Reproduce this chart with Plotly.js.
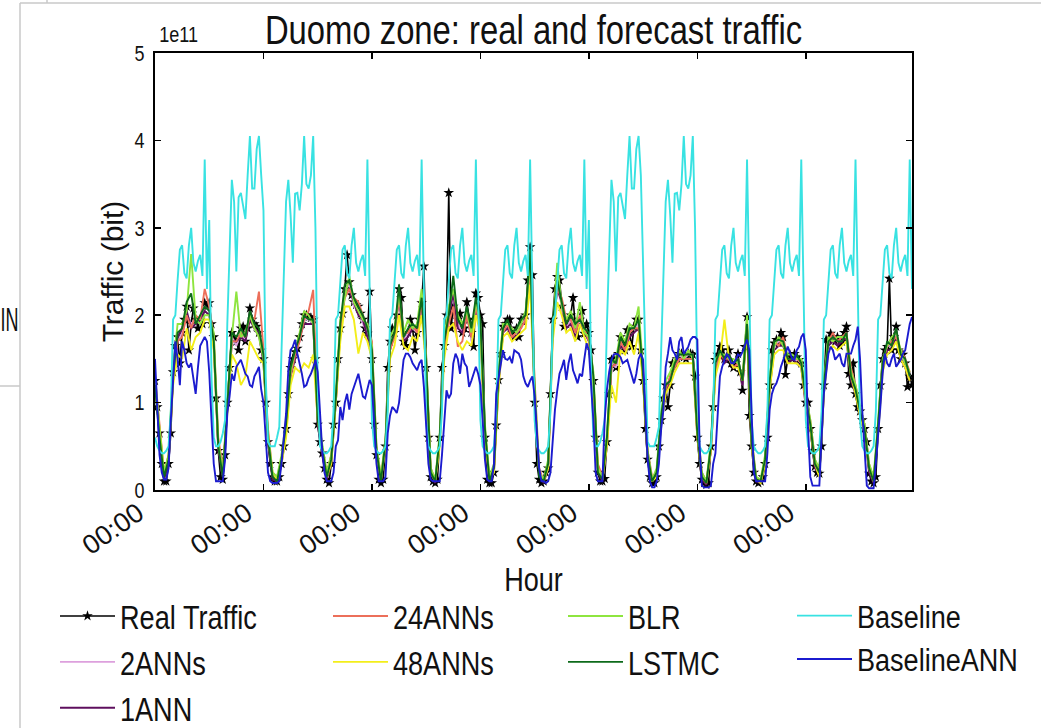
<!DOCTYPE html>
<html><head><meta charset="utf-8">
<script src="https://cdn.plot.ly/plotly-3.0.1.min.js"></script>
<style>html,body{margin:0;padding:0;background:#fff;}#chart{width:1041px;height:728px;}</style>
</head><body><div id="chart"></div>
<script>
// ---- data (traffic in units of 1e11 bit) ----
const SCALE = 1e11;
const yTickValues = [0, 1, 2, 3, 4, 5];
const yTickLabels = ['0', '1', '2', '3', '4', '5'];
const xTickHours = [0, 48, 96, 144, 192, 240, 288];
const xTickLabels = ['00:00', '00:00', '00:00', '00:00', '00:00', '00:00', '00:00'];
const seriesNames = ['Real Traffic', '2ANNs', '1ANN', '24ANNs', '48ANNs', 'BLR', 'LSTMC', 'Baseline', 'BaselineANN'];

// hourly values
const realTraffic = [
1.25,0.95,0.65,0.3,0.1,0.1,0.3,0.65,1.35,1.65,1.75,1.45,1.8,1.95,2.1,1.6,1.9,2.08,1.95,1.85,1.95,1.9,2.14,2.1,
2.14,1.9,1.75,1.05,0.45,0.15,0.12,0.4,1.0,1.4,1.8,1.75,1.7,1.6,1.85,1.87,1.7,1.85,2.08,1.95,1.9,1.87,1.8,1.6,
1.5,1.0,0.55,0.3,0.15,0.1,0.1,0.15,0.3,0.5,0.7,1.1,1.4,1.5,1.58,1.62,1.75,1.9,2.0,2.0,1.98,1.97,1.95,1.5,
0.75,0.55,0.42,0.25,0.12,0.08,0.3,0.75,1.0,1.5,1.85,2.02,2.3,2.69,2.38,2.23,2.15,2.12,2.1,2.02,1.95,1.85,1.79,2.27,
1.5,0.75,0.4,0.12,0.08,0.12,0.5,1.4,1.7,1.85,1.8,2.0,2.3,2.2,1.7,1.65,1.8,1.95,1.85,1.6,1.8,1.95,2.14,2.56,
1.4,0.6,0.15,0.1,0.08,0.12,0.6,1.4,1.65,2.0,3.4,1.85,2.1,1.9,1.95,2.02,1.8,1.85,2.15,1.95,1.8,1.64,2.25,2.2,
2.0,1.9,0.6,0.12,0.08,0.08,0.2,0.74,1.26,1.56,1.87,1.9,1.95,1.95,1.8,1.75,1.85,1.75,1.95,1.95,2.0,2.4,2.78,2.46,
1.0,0.3,0.12,0.08,0.1,0.2,0.25,1.1,1.95,2.3,2.44,2.4,2.1,1.87,1.9,1.95,2.0,2.2,1.87,1.75,1.95,2.05,1.79,1.9,
1.8,1.6,1.25,0.6,0.2,0.1,0.1,0.13,0.55,1.1,1.49,1.5,1.4,1.56,1.75,1.7,1.6,1.83,1.8,1.64,1.87,1.95,1.95,1.6,
1.25,0.7,0.35,0.15,0.08,0.08,0.15,0.5,0.8,1.05,1.2,0.95,1.2,1.45,1.45,1.5,1.56,1.56,1.52,1.5,1.56,1.56,1.55,1.3,
0.6,0.3,0.12,0.08,0.06,0.08,0.5,0.95,1.49,1.55,1.64,1.6,1.5,1.49,1.6,1.45,1.4,1.45,1.56,1.35,1.14,1.64,1.98,0.85,
0.5,0.2,0.1,0.08,0.1,0.15,0.3,0.6,1.2,1.6,1.68,1.72,1.7,1.8,1.75,1.32,1.5,1.55,1.5,1.56,1.52,1.49,1.45,1.2,
1.0,1.0,0.7,0.45,0.27,0.2,0.19,0.5,1.2,1.72,1.72,1.79,1.75,1.7,1.75,1.65,1.7,1.8,1.87,1.33,1.2,1.45,1.1,0.95,
0.9,0.8,0.7,0.55,0.19,0.1,0.08,0.15,0.7,1.2,1.5,1.6,1.64,2.42,1.6,1.75,1.87,1.6,1.5,1.55,1.45,1.18,1.3,1.2];

const baseline = [
0.6,0.5,0.45,0.42,0.42,0.45,0.5,0.9,1.95,2.0,2.4,2.75,2.8,2.48,2.42,2.8,3.0,2.6,2.5,2.62,2.69,2.45,3.78,2.3,
3.09,1.3,0.6,0.5,0.5,0.55,0.65,0.8,1.9,2.75,3.55,3.3,2.5,3.35,3.4,3.25,3.1,3.6,4.05,3.45,3.45,3.9,4.05,3.6,
3.2,1.3,0.55,0.5,0.5,0.5,0.6,0.72,1.6,2.6,3.3,3.55,3.15,2.6,3.39,3.4,3.2,3.5,4.05,3.5,3.45,3.6,4.05,3.0,
1.2,0.5,0.45,0.42,0.42,0.45,0.5,0.9,1.95,2.0,2.4,2.75,2.8,2.48,2.42,2.8,3.0,2.6,2.5,2.62,2.69,2.45,3.78,2.3,
0.8,0.5,0.45,0.42,0.42,0.45,0.5,0.9,1.95,2.0,2.4,2.75,2.8,2.48,2.42,2.8,3.0,2.6,2.5,2.62,2.69,2.45,3.78,2.3,
0.8,0.5,0.45,0.42,0.42,0.45,0.5,0.9,1.95,2.0,2.4,2.75,2.8,2.48,2.42,2.8,3.0,2.6,2.5,2.62,2.69,2.45,3.78,2.3,
0.8,0.5,0.45,0.42,0.42,0.45,0.5,0.9,1.95,2.0,2.4,2.75,2.8,2.48,2.42,2.8,3.0,2.6,2.5,2.62,2.69,2.45,3.78,2.3,
0.8,0.5,0.45,0.42,0.42,0.45,0.5,0.9,1.95,2.0,2.4,2.75,2.8,2.48,2.42,2.8,3.0,2.6,2.5,2.62,2.69,2.45,3.78,2.3,
3.09,1.3,0.6,0.5,0.5,0.55,0.65,0.8,1.9,2.75,3.55,3.3,2.5,3.35,3.4,3.25,3.1,3.6,4.05,3.45,3.45,3.9,4.05,3.6,
2.6,1.3,0.55,0.5,0.5,0.5,0.6,0.72,1.6,2.6,3.3,3.55,3.15,2.6,3.39,3.4,3.2,3.5,4.05,3.5,3.45,3.6,4.05,3.0,
1.2,0.5,0.45,0.42,0.42,0.45,0.5,0.9,1.95,2.0,2.4,2.75,2.8,2.48,2.42,2.8,3.0,2.6,2.5,2.62,2.69,2.45,3.78,2.3,
0.8,0.5,0.45,0.42,0.42,0.45,0.5,0.9,1.95,2.0,2.4,2.75,2.8,2.48,2.42,2.8,3.0,2.6,2.5,2.62,2.69,2.45,3.78,2.3,
0.8,0.5,0.45,0.42,0.42,0.45,0.5,0.9,1.95,2.0,2.4,2.75,2.8,2.48,2.42,2.8,3.0,2.6,2.5,2.62,2.69,2.45,3.78,2.3,
0.8,0.5,0.45,0.42,0.42,0.45,0.5,0.9,1.95,2.0,2.4,2.75,2.8,2.48,2.42,2.8,3.0,2.6,2.5,2.62,2.69,2.45,3.78,2.3];

const baselineANN = [
1.5,0.9,0.4,0.2,0.12,0.12,0.25,0.8,1.3,1.7,1.5,1.2,1.7,1.6,1.45,1.4,1.45,1.3,1.1,1.4,1.65,1.7,1.75,1.7,
1.35,0.8,0.3,0.1,0.1,0.1,0.1,0.35,0.88,1.07,1.33,1.25,1.41,1.45,1.49,1.41,1.33,1.3,1.2,1.18,1.3,1.35,1.41,1.15,
1.0,0.6,0.2,0.1,0.08,0.08,0.08,0.1,0.3,0.6,0.87,1.37,1.6,1.64,1.72,1.56,1.45,1.33,1.18,1.2,1.28,1.33,1.4,1.49,
1.35,0.9,0.45,0.2,0.1,0.1,0.1,0.2,0.5,0.57,0.95,0.8,1.0,1.1,0.92,1.1,1.18,1.25,1.33,1.2,1.07,1.05,1.15,1.26,
1.2,0.8,0.3,0.1,0.1,0.1,0.15,0.65,0.85,0.95,0.92,0.88,1.0,1.22,1.49,1.56,1.56,1.52,1.45,1.41,1.37,1.45,1.49,1.18,
0.7,0.3,0.12,0.1,0.1,0.1,0.1,0.4,0.8,1.14,1.05,1.1,1.45,1.56,1.5,1.33,1.56,1.45,1.41,1.18,1.25,1.33,1.41,1.33,
1.2,0.8,0.35,0.12,0.1,0.1,0.3,1.1,1.26,1.45,1.6,1.5,1.49,1.52,1.45,1.6,1.58,1.56,1.49,1.3,1.22,1.18,1.25,1.3,
1.07,0.6,0.25,0.1,0.1,0.08,0.1,0.2,0.6,0.92,1.14,1.33,1.4,1.49,1.26,1.45,1.56,1.37,1.3,1.22,1.33,1.3,1.5,1.68,
1.6,1.2,0.8,0.2,0.1,0.1,0.1,0.8,1.15,1.35,1.49,1.55,1.56,1.55,1.52,1.45,1.47,1.49,1.4,1.3,1.22,1.33,1.5,1.56,
1.49,0.9,0.35,0.1,0.03,0.03,0.1,0.3,0.7,0.92,1.41,1.56,1.75,1.6,1.56,1.49,1.7,1.75,1.56,1.6,1.64,1.72,1.75,1.75,
1.72,0.5,0.05,0.03,0.03,0.03,0.05,0.3,0.42,0.88,1.3,1.41,1.5,1.56,1.52,1.45,1.45,1.49,1.55,1.53,1.58,1.64,1.72,1.6,
0.9,0.2,0.1,0.1,0.1,0.1,0.1,0.42,0.92,1.1,1.18,1.22,1.3,1.41,1.5,1.56,1.64,1.56,1.5,1.49,1.6,1.64,1.75,1.79,
1.6,0.7,0.15,0.05,0.05,0.05,0.05,0.6,1.1,1.33,1.56,1.64,1.6,1.49,1.52,1.56,1.45,1.41,1.56,1.56,1.56,1.65,1.72,1.87,
1.5,0.9,0.4,0.05,0.02,0.02,0.02,0.3,0.6,0.95,1.33,1.56,1.45,1.41,1.5,1.56,1.41,1.45,1.49,1.56,1.6,1.75,1.9,1.98];

// two-hourly values
const ann2 = [
1.25,0.7,0.15,0.35,1.3,1.7,1.8,2.0,1.9,1.95,1.9,2.1,
2.05,1.7,0.5,0.18,0.95,1.75,1.65,1.8,1.7,2.0,1.85,1.75,
1.5,0.6,0.15,0.1,0.35,0.7,1.35,1.55,1.7,1.95,1.95,1.9,
0.8,0.45,0.15,0.35,1.0,1.85,2.3,2.35,2.1,2.05,1.9,1.8,
1.55,0.45,0.1,0.55,1.65,1.75,2.25,1.7,1.8,1.85,1.8,2.2,
1.45,0.2,0.1,0.6,1.65,2.05,2.2,1.9,1.8,2.05,1.7,2.15,
1.9,0.65,0.1,0.25,1.25,1.8,1.9,1.75,1.8,1.9,1.95,2.6,
1.1,0.2,0.1,0.3,1.85,2.35,2.1,1.85,1.95,1.8,1.95,1.8,
1.75,1.25,0.25,0.12,0.55,1.45,1.4,1.7,1.6,1.8,1.85,1.9,
1.3,0.4,0.1,0.2,0.8,1.15,1.25,1.45,1.55,1.5,1.55,1.55,
0.65,0.15,0.08,0.5,1.4,1.6,1.5,1.55,1.45,1.5,1.2,1.9,
0.55,0.12,0.1,0.35,1.2,1.65,1.7,1.7,1.5,1.5,1.5,1.45,
1.0,0.75,0.3,0.2,1.15,1.7,1.75,1.7,1.7,1.8,1.3,1.15,
0.9,0.7,0.25,0.1,0.7,1.45,1.65,1.65,1.8,1.55,1.45,1.3];

const ann1 = [
1.2,0.65,0.12,0.3,1.25,1.75,1.85,2.05,1.85,1.9,1.95,2.05,
2.0,1.65,0.45,0.15,0.9,1.7,1.7,1.75,1.7,1.95,1.85,1.8,
1.45,0.55,0.12,0.1,0.3,0.65,1.3,1.5,1.75,1.9,1.9,1.9,
0.75,0.4,0.12,0.3,1.0,1.8,2.25,2.3,2.15,2.0,1.95,1.75,
1.5,0.4,0.1,0.5,1.6,1.8,2.2,1.7,1.75,1.85,1.85,2.15,
1.4,0.2,0.08,0.55,1.6,2.0,2.25,1.85,1.8,2.0,1.75,2.1,
1.85,0.6,0.1,0.2,1.2,1.8,1.85,1.75,1.75,1.9,1.9,2.55,
1.05,0.18,0.08,0.25,1.8,2.3,2.15,1.85,1.9,1.75,1.9,1.8,
1.7,1.2,0.2,0.1,0.5,1.4,1.45,1.65,1.6,1.75,1.8,1.85,
1.25,0.35,0.1,0.18,0.75,1.1,1.3,1.4,1.5,1.5,1.5,1.5,
0.6,0.12,0.06,0.45,1.35,1.55,1.45,1.5,1.4,1.45,1.2,1.85,
0.5,0.1,0.08,0.3,1.15,1.6,1.65,1.65,1.45,1.5,1.45,1.4,
0.95,0.7,0.25,0.18,1.1,1.65,1.7,1.65,1.7,1.75,1.25,1.1,
0.85,0.65,0.2,0.08,0.65,1.4,1.6,1.6,1.75,1.5,1.4,1.25];

const ann24 = [
1.3,0.75,0.2,0.4,1.3,1.7,1.75,2.0,1.85,2.0,1.95,2.3,
2.1,1.75,0.6,0.25,0.9,1.7,1.7,1.8,1.75,2.0,1.95,2.27,
1.6,0.7,0.2,0.15,0.35,0.7,1.3,1.55,1.7,1.95,2.05,2.29,
0.9,0.5,0.2,0.4,1.0,1.85,2.2,2.3,2.2,2.15,2.0,1.85,
1.7,0.5,0.15,0.55,1.6,1.75,2.2,1.8,1.8,1.9,1.8,2.15,
1.5,0.25,0.12,0.55,1.6,1.9,2.1,1.64,1.7,2.0,1.75,2.1,
1.85,0.65,0.15,0.25,1.2,1.8,1.9,1.75,1.8,1.85,1.95,2.5,
1.25,0.25,0.1,0.3,1.8,2.3,2.2,1.95,1.95,1.8,2.0,1.85,
1.7,1.25,0.3,0.15,0.55,1.4,1.45,1.7,1.6,1.8,1.85,1.85,
1.3,0.45,0.15,0.2,0.8,1.15,1.3,1.4,1.5,1.5,1.5,1.5,
0.75,0.2,0.1,0.45,1.35,1.55,1.5,1.5,1.4,1.45,1.3,1.85,
0.6,0.15,0.1,0.35,1.25,1.7,1.65,1.75,1.5,1.5,1.5,1.45,
1.05,0.8,0.35,0.2,1.15,1.7,1.8,1.7,1.75,1.8,1.4,1.2,
0.95,0.75,0.3,0.12,0.7,1.45,1.65,1.7,1.75,1.6,1.5,1.35];

const ann48 = [
1.2,0.7,0.2,0.35,1.2,1.55,1.5,1.85,1.6,1.75,1.8,1.95,
1.95,1.6,0.5,0.2,0.85,1.55,1.45,1.2,1.3,1.7,1.6,1.5,
1.45,0.6,0.2,0.12,0.3,0.6,1.2,1.4,1.35,1.45,1.4,1.55,
0.8,0.45,0.15,0.3,0.95,1.7,2.1,2.1,1.95,1.56,1.8,1.7,
1.5,0.4,0.12,0.5,1.5,1.65,2.0,1.65,1.6,1.75,1.7,2.0,
1.4,0.2,0.1,0.5,1.5,1.85,1.9,1.7,1.6,1.7,1.65,2.0,
1.8,0.6,0.12,0.2,1.15,1.75,1.8,1.7,1.75,1.8,1.85,2.35,
1.1,0.2,0.1,0.25,1.7,2.15,2.0,1.8,1.85,1.7,1.9,1.75,
1.6,1.2,0.25,0.12,0.5,1.2,1.0,1.6,1.55,1.7,1.55,1.8,
1.2,0.4,0.1,0.15,0.75,1.1,1.2,1.35,1.45,1.45,1.45,1.45,
0.6,0.15,0.08,0.45,1.3,1.5,1.95,1.5,1.4,1.4,1.25,1.8,
0.5,0.12,0.08,0.3,1.15,1.55,1.6,1.6,1.45,1.45,1.45,1.4,
1.0,0.7,0.3,0.15,1.1,1.6,1.65,1.6,1.65,1.7,1.3,1.1,
0.85,0.65,0.25,0.1,0.65,1.35,1.55,1.6,1.7,1.5,1.4,1.25];

const blr = [
1.3,0.7,0.2,0.4,1.4,1.9,1.9,2.05,2.7,1.95,1.9,2.0,
2.0,1.8,0.55,0.2,1.0,1.75,2.27,1.75,1.8,2.0,1.85,1.75,
1.5,0.65,0.2,0.15,0.4,0.8,1.35,1.6,1.8,2.05,2.0,1.9,
0.85,0.5,0.2,0.4,1.1,1.95,2.2,2.45,2.15,2.05,1.95,1.9,
1.65,0.5,0.15,0.6,1.75,1.85,2.25,1.8,1.95,1.85,1.9,2.3,
1.5,0.25,0.12,0.65,1.75,2.1,2.3,2.0,1.9,2.05,1.8,2.15,
1.9,0.75,0.15,0.3,1.35,1.9,1.9,1.85,1.8,1.9,2.05,2.6,
1.2,0.2,0.12,0.35,1.85,2.6,2.1,1.95,2.05,1.85,2.15,1.8,
1.75,1.35,0.25,0.15,0.65,1.45,1.5,1.8,1.7,1.9,1.85,2.1,
1.35,0.45,0.12,0.25,0.9,1.25,1.35,1.5,1.6,1.5,1.6,1.5,
0.7,0.2,0.1,0.55,1.5,1.55,1.55,1.5,1.5,1.45,1.3,2.0,
0.6,0.15,0.12,0.4,1.3,1.65,1.75,1.65,1.55,1.55,1.5,1.5,
1.1,0.8,0.35,0.25,1.25,1.75,1.7,1.75,1.75,1.75,1.35,1.2,
0.95,0.75,0.3,0.15,0.8,1.5,1.65,1.75,1.8,1.6,1.45,1.35];

const lstmc = [
1.2,0.6,0.15,0.35,1.3,1.8,1.85,2.15,2.25,1.9,2.0,2.1,
2.05,1.7,0.5,0.15,0.95,1.8,1.75,1.85,1.75,2.05,1.9,1.85,
1.55,0.6,0.15,0.1,0.35,0.75,1.4,1.6,1.75,2.0,1.95,1.95,
0.8,0.45,0.15,0.35,1.05,1.9,2.35,2.4,2.2,2.1,2.0,1.85,
1.6,0.45,0.1,0.55,1.65,1.8,2.35,1.75,1.85,1.9,1.85,2.2,
1.45,0.2,0.1,0.6,1.7,2.0,2.45,1.95,1.85,2.1,1.85,2.2,
1.95,0.7,0.1,0.25,1.3,1.85,1.95,1.8,1.85,1.95,2.0,2.75,
1.1,0.15,0.1,0.3,1.9,2.4,2.15,1.9,2.0,1.9,1.95,1.85,
1.8,1.3,0.2,0.12,0.6,1.5,1.45,1.75,1.65,1.85,1.85,1.95,
1.3,0.4,0.1,0.2,0.85,1.2,1.25,1.45,1.55,1.55,1.55,1.55,
0.65,0.15,0.08,0.5,1.45,1.6,1.5,1.55,1.45,1.5,1.25,1.9,
0.55,0.12,0.1,0.35,1.25,1.7,1.72,1.7,1.5,1.5,1.55,1.45,
1.05,0.75,0.3,0.2,1.2,1.7,1.75,1.7,1.7,1.8,1.3,1.15,
0.9,0.7,0.25,0.1,0.75,1.45,1.7,1.65,1.85,1.55,1.5,1.3];

// ---- drawing ----
const FONT = '"Liberation Sans", Arial, sans-serif';
const SQUISH = 0.82;   // the reference image is horizontally compressed
const LEGEND_SIZE = 33;
const LAST_LEGEND_SIZE = 31;   // slightly smaller so the widest entry stays on the page
const hourly = arr => arr.map((_, i) => i);
const twoHourly = arr => arr.map((_, i) => 2 * i);
const scaled = arr => arr.map(v => v * SCALE);

function lineTrace(name, xs, ys, color, legend, extra) {
  return Object.assign({
    type: 'scatter', mode: 'lines', name: name, x: xs, y: scaled(ys),
    line: {color: color, width: 1.9}, legend: legend, hoverinfo: 'skip'
  }, extra || {});
}

const traces = [
  lineTrace(seriesNames[0], hourly(realTraffic), realTraffic, '#000000', 'legend',
    {mode: 'lines+markers', marker: {symbol: 'star', size: 8, color: '#000000'}, line: {color: '#000000', width: 1.6}}),
  lineTrace(seriesNames[1], twoHourly(ann2), ann2, '#dda0dd', 'legend'),
  lineTrace(seriesNames[2], twoHourly(ann1), ann1, '#5e0f5e', 'legend'),
  lineTrace(seriesNames[3], twoHourly(ann24), ann24, '#ec6f5a', 'legend2'),
  lineTrace(seriesNames[4], twoHourly(ann48), ann48, '#f3ee1a', 'legend2'),
  lineTrace(seriesNames[5], twoHourly(blr), blr, '#8ee53f', 'legend3'),
  lineTrace(seriesNames[6], twoHourly(lstmc), lstmc, '#0d6a1a', 'legend3'),
  lineTrace(seriesNames[7], hourly(baseline), baseline, '#38e2e2', 'legend4'),
  lineTrace(seriesNames[8], hourly(baselineANN), baselineANN, '#1b1bcf', 'legend4')
];

// pixel helpers for paper coords (plot area: x 155..912, y 53..490)
const PL = 155, PR = 912, PT = 53, PB = 490;
const px = x => (x - PL) / (PR - PL);
const py = y => (PB - y) / (PB - PT);

function legendAt(xPix, yPix, size) {
  return {
    x: px(xPix), y: py(yPix), xanchor: 'left', yanchor: 'top',
    orientation: 'v', bgcolor: 'rgba(0,0,0,0)', borderwidth: 0,
    itemwidth: 55, tracegroupgap: 0, traceorder: 'normal',
    font: {family: FONT, size: size || LEGEND_SIZE, color: '#111'}
  };
}

const axisCommon = {
  showline: true, linecolor: '#000', linewidth: 2, mirror: 'allticks',
  ticks: 'inside', ticklen: 6, tickwidth: 1.5, tickcolor: '#000',
  showgrid: false, zeroline: false
};

const layout = {
  width: 1041, height: 728,
  margin: {l: PL, r: 1041 - PR, t: PT, b: 728 - PB, pad: 0, autoexpand: false},
  paper_bgcolor: '#ffffff', plot_bgcolor: '#ffffff',
  showlegend: true,
  title: {text: 'Duomo zone: real and forecast traffic',
    font: {family: FONT, size: 40, color: '#111'},
    xref: 'container', yref: 'container', x: (PL + PR) / 2 / 1041, xanchor: 'center',
    y: 1 - 30 / 728, yanchor: 'middle'},
  xaxis: Object.assign({}, axisCommon, {
    range: [0, 335], tickmode: 'array', tickvals: xTickHours, ticktext: xTickLabels,
    tickangle: -35, tickfont: {family: FONT, size: 27, color: '#111'},
    ticklabelshift: -17, ticklabelstandoff: -5,
    title: {text: 'Hour', font: {family: FONT, size: 33, color: '#111'}, standoff: 8}
  }),
  yaxis: Object.assign({}, axisCommon, {
    range: [0, 5 * SCALE], tickmode: 'array',
    tickvals: yTickValues.map(v => v * SCALE), ticktext: yTickLabels,
    tickfont: {family: FONT, size: 22, color: '#111'}, ticklabelstandoff: 4,
    title: {text: 'Traffic (bit)', font: {family: FONT, size: 30, color: '#111'}, standoff: 0}
  }),
  legend: legendAt(55, 588),
  legend2: legendAt(328, 588),
  legend3: legendAt(563, 588),
  legend4: legendAt(792, 589, LAST_LEGEND_SIZE),
  annotations: [
    {text: '1e11', xref: 'paper', yref: 'paper', x: px(178), y: py(49), xanchor: 'center', yanchor: 'bottom',
      showarrow: false, font: {family: FONT, size: 22, color: '#111'}},
    {text: 'IN', xref: 'paper', yref: 'paper', x: px(9), y: py(320), xanchor: 'center', yanchor: 'middle',
      showarrow: false, font: {family: FONT, size: 33, color: '#111'}}
  ],
  shapes: [
    {type: 'line', xref: 'paper', yref: 'paper', x0: px(20), x1: px(20), y0: py(728), y1: py(3), line: {color: '#c8c8c8', width: 1.5}},
    {type: 'line', xref: 'paper', yref: 'paper', x0: px(20), x1: px(1041), y0: py(3), y1: py(3), line: {color: '#c8c8c8', width: 1.5}},
    {type: 'line', xref: 'paper', yref: 'paper', x0: px(47), x1: px(47), y0: py(3), y1: py(0), line: {color: '#c8c8c8', width: 1.5}},
    {type: 'line', xref: 'paper', yref: 'paper', x0: px(0), x1: px(20), y0: py(386), y1: py(386), line: {color: '#c8c8c8', width: 1.5}}
  ]
};

// compress horizontal texts like the (horizontally squeezed) reference image
const SEL = '.gtitle, .xtitle, .legendtext, [class*="legend"] text, .annotation-text, .ytick text';
const measureCtx = document.createElement('canvas').getContext('2d');
function naturalWidth(t) {
  const cs = getComputedStyle(t);
  measureCtx.font = (cs.fontStyle || 'normal') + ' ' + (cs.fontWeight || '400') + ' ' + cs.fontSize + ' ' + cs.fontFamily;
  return measureCtx.measureText(t.textContent).width;
}
function squishOne(t) {
  const txt = t.textContent;
  if (!txt || t.getAttribute('data-sq') === txt) return;
  const len = naturalWidth(t);
  if (!(len > 0)) return;
  const inLast = t.closest && t.closest('.legend4');
  const factor = inLast ? SQUISH * LEGEND_SIZE / LAST_LEGEND_SIZE : SQUISH;
  const target = txt === 'IN' ? 18 : len * factor;
  t.setAttribute('textLength', target.toFixed(1));
  t.setAttribute('lengthAdjust', 'spacingAndGlyphs');
  t.setAttribute('data-sq', txt);
}
function squishTexts(root) { root.querySelectorAll(SEL).forEach(squishOne); }

const gdiv = document.getElementById('chart');
const observer = new MutationObserver(() => squishTexts(gdiv));
observer.observe(gdiv, {childList: true, subtree: true, characterData: true, attributes: true, attributeFilter: ['style', 'transform', 'class']});

Plotly.newPlot(gdiv, traces, layout, {displayModeBar: false, staticPlot: true}).then(gd => {
  squishTexts(gd);
  requestAnimationFrame(() => squishTexts(gd));
  setTimeout(() => squishTexts(gd), 20);
  setTimeout(() => squishTexts(gd), 150);
});
</script>
</body></html>
